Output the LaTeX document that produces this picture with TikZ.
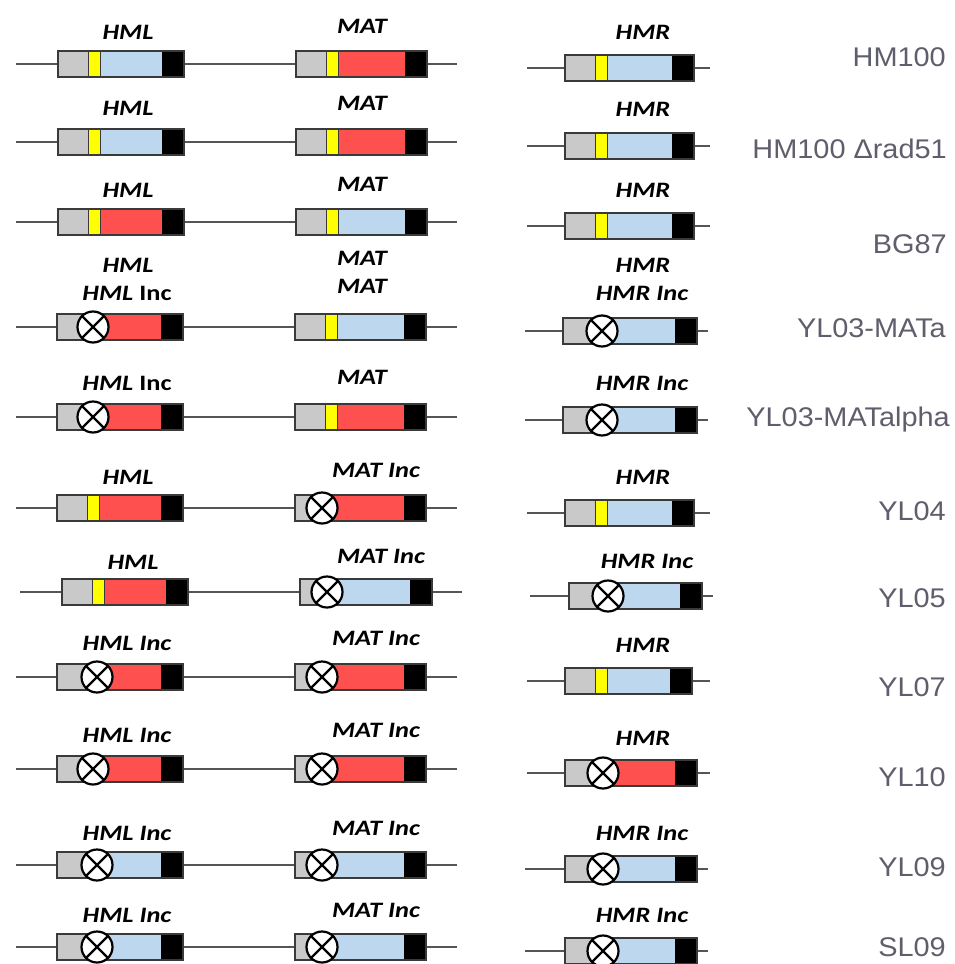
\documentclass[tikz,border=0pt]{standalone}
\usepackage{fontspec}
\newfontfamily\lblfont{Carlito}[FakeStretch=1.2]
\newfontfamily\strainfont{Liberation Sans}[FakeStretch=1.07]
\definecolor{cgrey}{HTML}{C9C9C9}
\definecolor{cblue}{HTML}{BDD7EE}
\definecolor{cred}{HTML}{FF5050}
\definecolor{cyel}{HTML}{FFFF00}
\definecolor{outl}{HTML}{3A3A3A}
\definecolor{connc}{HTML}{555555}
\definecolor{straingrey}{HTML}{5E5E6C}
\tikzset{
  gbox/.style={draw=outl, line width=1.3pt, inner sep=0pt, minimum height=26pt},
  incirc/.style={circle, draw=black, fill=white, line width=2.2pt, inner sep=0pt, minimum size=31pt},
  xline/.style={draw=black, line width=2.2pt},
  conn/.style={draw=connc, line width=2pt},
  lbl/.style={font=\lblfont\bfseries\itshape\fontsize{22}{25}\selectfont, inner sep=0pt, anchor=base},
  strain/.style={font=\strainfont\fontsize{27}{30}\selectfont, text=straingrey, inner sep=0pt, anchor=base east}
}
% locus with yellow bar: name, xL, xR, y, colour
\newcommand\locY[5]{%
  \fill[cgrey] (#2,{#4-13}) rectangle ({#2+30},{#4+13});
  \fill[cyel] ({#2+30},{#4-13}) rectangle ({#2+42},{#4+13});
  \fill[#5] ({#2+42},{#4-13}) rectangle ({#3-22},{#4+13});
  \fill[black] ({#3-22},{#4-13}) rectangle (#3,{#4+13});
  \draw[outl, line width=1pt] ({#2+30},{#4-13}) -- ({#2+30},{#4+13}) ({#2+42},{#4-13}) -- ({#2+42},{#4+13});
  \node[gbox, minimum width={#3-#2}] (#1) at ({(#2+#3)/2},#4) {};
}
% locus with inactivating circle: name, xL, xR, y, circle centre x, colour
\newcommand\locC[6]{%
  \fill[cgrey] (#2,{#4-13}) rectangle ({#5-10},{#4+13});
  \fill[#6] ({#5-10},{#4-13}) rectangle ({#3-22},{#4+13});
  \fill[black] ({#3-22},{#4-13}) rectangle (#3,{#4+13});
  \node[gbox, minimum width={#3-#2}] (#1) at ({(#2+#3)/2},#4) {};
  \node[incirc] (#1c) at (#5,#4) {};
  \draw[xline] (#1c.north west) -- (#1c.south east) (#1c.north east) -- (#1c.south west);
}
% connectors of one row: row prefix, left y, right y, xs, xe, hxs, hxe
\newcommand\rowlines[7]{%
  \coordinate (#1s) at (#4,#2);
  \coordinate (#1e) at (#5,#2);
  \coordinate (#1hs) at (#6,#3);
  \coordinate (#1he) at (#7,#3);
  \draw[conn] (#1s) -- (#1a);
  \draw[conn] (#1a) -- (#1b);
  \draw[conn] (#1b) -- (#1e);
  \draw[conn] (#1hs) -- (#1c);
  \draw[conn] (#1c) -- (#1he);
}
\begin{document}
\begin{tikzpicture}[x=1pt, y=-1pt]
\useasboundingbox (0,0) rectangle (955,964);
\fill[white] (0,0) rectangle (955,964);

% Row 1 HM100
\locY{r1a}{58}{184}{64}{cblue}
\locY{r1b}{296}{427}{64}{cred}
\locY{r1c}{565}{694}{68}{cblue}
\rowlines{r1}{64}{68}{16}{457}{527}{710}
\node[lbl] (r1la) at (128,{32+7}) {HML};
\node[lbl] (r1lb) at (362,{26+7}) {MAT};
\node[lbl] (r1lc) at (643,{32+7}) {HMR};
\node[strain] (r1n) at (946,{56+10}) {HM100};

% Row 2 HM100 Delta rad51
\locY{r2a}{58}{184}{142}{cblue}
\locY{r2b}{296}{427}{142}{cred}
\locY{r2c}{565}{694}{146}{cblue}
\rowlines{r2}{142}{146}{16}{457}{527}{710}
\node[lbl] (r2la) at (128,{108+7}) {HML};
\node[lbl] (r2lb) at (362,{103+7}) {MAT};
\node[lbl] (r2lc) at (643,{109+7}) {HMR};
\node[strain] (r2n) at (947,{148+10}) {HM100 Δrad51};

% Row 3 BG87
\locY{r3a}{58}{184}{222}{cred}
\locY{r3b}{296}{427}{222}{cblue}
\locY{r3c}{565}{694}{226}{cblue}
\rowlines{r3}{222}{226}{16}{457}{527}{710}
\node[lbl] (r3la) at (128,{190+7}) {HML};
\node[lbl] (r3lb) at (362,{184+7}) {MAT};
\node[lbl] (r3lc) at (643,{190+7}) {HMR};
\node[strain] (r3n) at (947,{243+10}) {BG87};

% Row 4 YL03-MATa
\locC{r4a}{57}{183}{327}{93}{cred}
\locY{r4b}{295}{426}{327}{cblue}
\locC{r4c}{563}{697}{331}{602}{cblue}
\rowlines{r4}{327}{331}{16}{457}{525}{708}
\node[lbl] (r4la) at (128,{265+7}) {HML};
\node[lbl] (r4lA) at (127,{293+7}) {HML \upshape Inc};
\node[lbl] (r4lb) at (362,{258+7}) {MAT};
\node[lbl] (r4lB) at (362,{286+7}) {MAT};
\node[lbl] (r4lc) at (643,{265+7}) {HMR};
\node[lbl] (r4lC) at (642,{293+7}) {HMR Inc};
\node[strain] (r4n) at (946,{327+10}) {YL03-MATa};

% Row 5 YL03-MATalpha
\locC{r5a}{57}{183}{417}{93}{cred}
\locY{r5b}{295}{426}{417}{cred}
\locC{r5c}{563}{697}{420}{602}{cblue}
\rowlines{r5}{417}{420}{16}{457}{525}{708}
\node[lbl] (r5la) at (127,{383+7}) {HML \upshape Inc};
\node[lbl] (r5lb) at (362,{377+7}) {MAT};
\node[lbl] (r5lc) at (642,{383+7}) {HMR Inc};
\node[strain] (r5n) at (950,{416+10}) {YL03-MATalpha};

% Row 6 YL04
\locY{r6a}{57}{183}{508}{cred}
\locC{r6b}{295}{426}{508}{322}{cred}
\locY{r6c}{565}{694}{513}{cblue}
\rowlines{r6}{508}{513}{16}{457}{527}{710}
\node[lbl] (r6la) at (128,{477+7}) {HML};
\node[lbl] (r6lb) at (376,{470+7}) {MAT Inc};
\node[lbl] (r6lc) at (643,{477+7}) {HMR};
\node[strain] (r6n) at (946,{510+10}) {YL04};

% Row 7 YL05
\locY{r7a}{62}{188}{592}{cred}
\locC{r7b}{300}{432}{592}{327}{cblue}
\locC{r7c}{569}{702}{596}{608}{cblue}
\rowlines{r7}{592}{596}{20}{462}{530}{713}
\node[lbl] (r7la) at (133,{562+7}) {HML};
\node[lbl] (r7lb) at (381,{556+7}) {MAT Inc};
\node[lbl] (r7lc) at (647,{561+7}) {HMR Inc};
\node[strain] (r7n) at (946,{597+10}) {YL05};

% Row 8 YL07
\locC{r8a}{57}{183}{677}{97}{cred}
\locC{r8b}{295}{426}{677}{322}{cred}
\locY{r8c}{565}{692}{681}{cblue}
\rowlines{r8}{677}{681}{16}{457}{527}{710}
\node[lbl] (r8la) at (127,{643+7}) {HML Inc};
\node[lbl] (r8lb) at (376,{638+7}) {MAT Inc};
\node[lbl] (r8lc) at (643,{645+7}) {HMR};
\node[strain] (r8n) at (946,{686+10}) {YL07};

% Row 9 YL10
\locC{r9a}{57}{183}{769}{93}{cred}
\locC{r9b}{295}{426}{769}{322}{cred}
\locC{r9c}{565}{697}{773}{603}{cred}
\rowlines{r9}{769}{773}{16}{457}{527}{710}
\node[lbl] (r9la) at (127,{735+7}) {HML Inc};
\node[lbl] (r9lb) at (376,{730+7}) {MAT Inc};
\node[lbl] (r9lc) at (643,{738+7}) {HMR};
\node[strain] (r9n) at (946,{776+10}) {YL10};

% Row 10 YL09
\locC{r10a}{57}{183}{865}{97}{cblue}
\locC{r10b}{295}{426}{865}{322}{cblue}
\locC{r10c}{565}{697}{869}{603}{cblue}
\rowlines{r10}{865}{869}{16}{457}{525}{708}
\node[lbl] (r10la) at (127,{833+7}) {HML Inc};
\node[lbl] (r10lb) at (376,{828+7}) {MAT Inc};
\node[lbl] (r10lc) at (642,{833+7}) {HMR Inc};
\node[strain] (r10n) at (946,{866+10}) {YL09};

% Row 11 SL09
\locC{r11a}{57}{183}{947}{97}{cblue}
\locC{r11b}{295}{426}{947}{322}{cblue}
\locC{r11c}{565}{697}{951}{603}{cblue}
\rowlines{r11}{947}{951}{16}{457}{525}{708}
\node[lbl] (r11la) at (127,{915+7}) {HML Inc};
\node[lbl] (r11lb) at (376,{910+7}) {MAT Inc};
\node[lbl] (r11lc) at (642,{915+7}) {HMR Inc};
\node[strain] (r11n) at (946,956) {SL09};
\end{tikzpicture}
\end{document}
